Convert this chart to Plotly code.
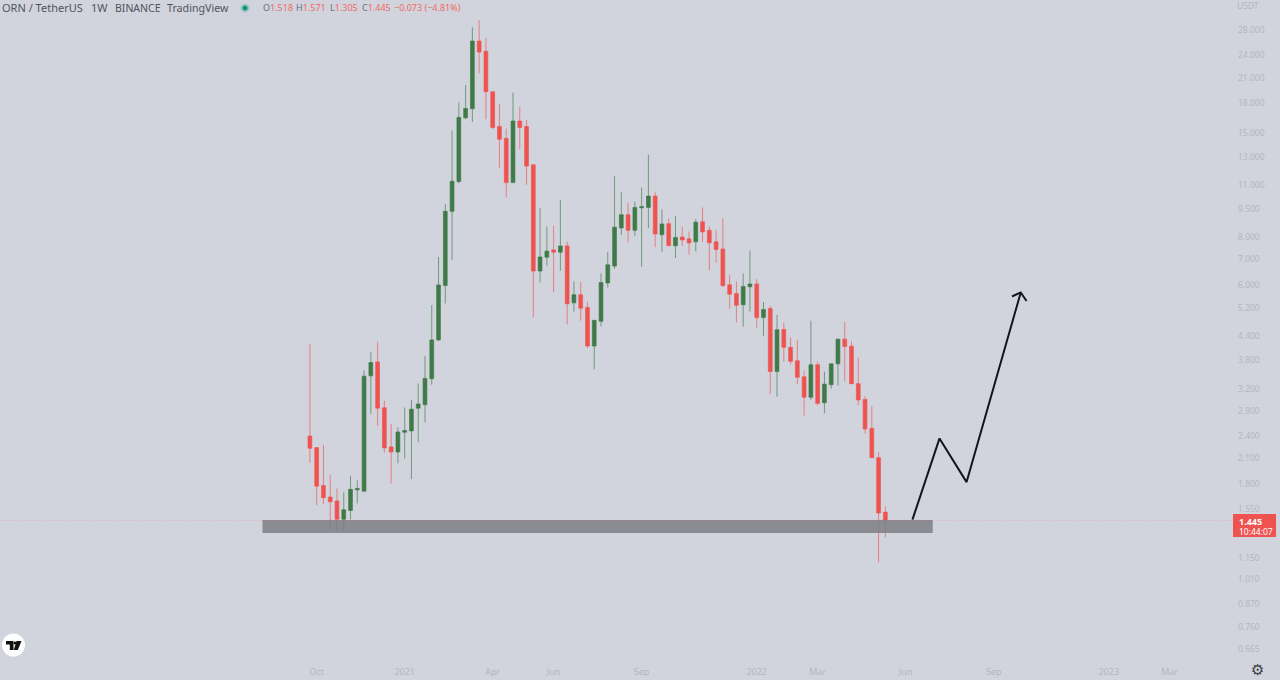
import math
import pandas as pd
import plotly.graph_objects as go

W, H = 1280, 680
BG = "#D1D4DC"
RED = "#EF5350"
GREEN = "#3F7A48"

start_week = "2020-09-28"
candle_count = 86

highs = [4.20,2.242,2.28,1.90,1.75,1.712,1.889,1.839,3.575,3.993,4.248,2.977,2.586,2.533,2.858,2.99,3.30,3.904,5.306,7.10,
         9.78,15.24,18.08,20.08,28.46,29.74,26.68,19.28,17.9,15.42,19.17,17.6,16.25,12.4,9.53,8.53,8.56,10.02,7.79,6.12,
         6.11,5.41,4.84,6.43,7.32,11.58,10.5,9.86,9.92,10.81,13.17,10.5,9.47,8.97,9.1,8.53,8.28,8.93,9.58,8.53,
         8.36,8.97,6.37,6.12,6.43,7.38,6.21,5.41,5.28,5.0,4.77,4.36,4.30,3.58,4.83,3.77,3.55,3.72,4.32,4.8,
         4.26,3.86,3.06,2.88,2.18,1.571]
lows = [2.046,1.581,1.59,1.351,1.351,1.349,1.454,1.60,1.723,2.752,2.555,2.174,1.806,2.038,2.10,1.854,2.317,2.613,3.278,4.275,
        5.36,6.97,11.08,16.32,16.05,21.55,16.32,15.36,12.17,10.18,11.13,13.61,10.99,4.93,6.08,6.73,5.73,6.53,4.72,5.10,
        4.83,4.09,3.60,4.66,5.90,6.61,8.11,7.76,8.07,6.69,8.45,7.53,7.32,7.6,7.06,7.59,7.19,7.34,7.78,6.56,
        6.86,5.92,5.2,4.78,4.66,5.1,4.63,4.41,3.1,3.05,3.77,3.71,3.29,2.72,2.99,2.89,2.76,3.2,3.26,3.35,
        3.30,2.90,2.44,2.11,1.12,1.305]
opens = [2.405,2.242,1.783,1.663,1.624,1.454,1.534,1.737,1.723,3.46,3.764,2.852,2.251,2.183,2.46,2.48,2.846,2.906,3.40,4.30,
         5.97,9.355,11.2,16.47,17.4,26.2,24.62,19.28,15.63,14.55,11.13,16.15,15.63,12.4,6.52,7.09,7.41,7.31,7.59,5.38,
         5.65,5.23,4.145,4.81,6.07,6.72,8.46,9.17,8.34,9.56,9.58,10.26,8.12,8.68,7.6,8.01,7.92,7.78,8.78,8.34,
         7.78,7.45,6.0,5.69,5.32,5.93,6.03,4.92,5.2,3.55,4.58,4.11,3.79,3.44,3.04,3.70,2.94,3.28,3.72,4.32,
         4.14,3.30,3.0,2.52,2.11,1.518]
closes = [2.233,1.776,1.656,1.617,1.454,1.54,1.742,1.75,3.453,3.749,2.846,2.237,2.183,2.465,2.485,2.828,2.918,3.407,4.30,5.995,
          9.355,11.22,16.5,17.43,26.2,24.51,19.28,15.53,14.46,11.13,16.15,15.53,12.3,6.52,7.10,7.35,7.31,7.59,5.35,5.65,
          5.21,4.145,4.84,6.08,6.77,8.50,9.17,8.34,9.58,9.62,10.26,8.16,8.67,7.6,7.99,7.87,7.73,8.76,8.26,7.74,
          7.43,5.97,5.67,5.3,5.94,6.03,4.92,5.17,3.55,4.57,4.11,3.78,3.43,3.04,3.70,2.93,3.29,3.72,4.32,4.13,
          3.30,2.99,2.51,2.11,1.51,1.445]

y_tick_values = [28,24,21,18,15,13,11,9.5,8,7,6,5.2,4.4,3.8,3.2,2.8,2.4,2.1,1.8,1.55,1.15,1.01,0.87,0.76,0.665]
y_tick_labels = ["28.000","24.000","21.000","18.000","15.000","13.000","11.000","9.500","8.000","7.000","6.000",
                 "5.200","4.400","3.800","3.200","2.800","2.400","2.100","1.800","1.550","1.150","1.010","0.870","0.760","0.665"]
x_tick_dates = ["2020-10-05","2021-01-04","2021-04-05","2021-06-07","2021-09-06","2022-01-03","2022-03-07",
                "2022-06-06","2022-09-05","2023-01-02","2023-03-06"]
x_tick_labels = ["Oct","2021","Apr","Jun","Sep","2022","Mar","Jun","Sep","2023","Mar"]

drawing_dates = ["2022-06-13","2022-07-11","2022-08-08","2022-10-03"]
drawing_prices = [1.45,2.37,1.82,5.73]
arrow_dates = ["2022-09-24","2022-10-03","2022-10-09"]
arrow_prices = [5.59,5.73,5.44]

zone_dates = ["2020-08-10","2022-07-04"]
zone_prices = [1.337,1.448]
last_price = 1.445

weeks = pd.date_range(start_week, periods=candle_count, freq="7D")

px_per_week = 6.77
anchor_px = 309.9
week0 = pd.Timestamp(start_week)
plot_right = 1232
x_from = week0 + pd.Timedelta(days=(0 - anchor_px) / px_per_week * 7)
x_to = week0 + pd.Timedelta(days=(plot_right - anchor_px) / px_per_week * 7)


def px(x):
    return x / W


def py(y):
    return 1 - y / H


fig = go.Figure()
fig.add_trace(go.Candlestick(
    x=weeks, open=opens, high=highs, low=lows, close=closes,
    whiskerwidth=0,
    increasing=dict(line=dict(color="rgba(63,122,72,0.65)", width=1), fillcolor=GREEN),
    decreasing=dict(line=dict(color="rgba(239,83,80,0.65)", width=1), fillcolor=RED),
    showlegend=False, hoverinfo="skip",
))
fig.add_trace(go.Scatter(x=drawing_dates, y=drawing_prices, mode="lines",
                         line=dict(color="#15161a", width=2), showlegend=False, hoverinfo="skip"))
fig.add_trace(go.Scatter(x=arrow_dates, y=arrow_prices, mode="lines",
                         line=dict(color="#15161a", width=2), showlegend=False, hoverinfo="skip"))

shapes = [
    dict(type="rect", xref="x", yref="y", x0=zone_dates[0], x1=zone_dates[1],
         y0=zone_prices[0], y1=zone_prices[1], line=dict(width=0),
         fillcolor="rgba(125,125,133,0.84)", layer="above"),
    dict(type="line", xref="paper", yref="y", x0=0, x1=px(plot_right), y0=last_price, y1=last_price,
         line=dict(color="rgba(239,83,80,0.55)", width=0.7, dash="1px,2px"), layer="above"),
    dict(type="rect", xref="paper", yref="paper", x0=px(1233), x1=px(1276), y0=py(537), y1=py(514),
         fillcolor=RED, line=dict(width=0), layer="above"),
    dict(type="circle", xref="paper", yref="paper", x0=px(2), x1=px(25), y0=py(656.5), y1=py(633.5),
         fillcolor="#FFFFFF", line=dict(width=0), layer="above"),
    dict(type="circle", xref="paper", yref="paper", x0=px(240.5), x1=px(249.5), y0=py(12.5), y1=py(3.5),
         fillcolor="rgba(8,153,129,0.22)", line=dict(width=0), layer="above"),
    dict(type="circle", xref="paper", yref="paper", x0=px(242.5), x1=px(247.5), y0=py(10.5), y1=py(5.5),
         fillcolor="#089981", line=dict(width=0), layer="above"),
]


def poly(points):
    d = "M " + " L ".join(f"{px(a):.5f},{py(b):.5f}" for a, b in points) + " Z"
    return dict(type="path", xref="paper", yref="paper", path=d, fillcolor="#111111",
                line=dict(width=0), layer="above")


shapes.append(poly([(6, 641), (13.5, 641), (13.5, 650), (9.8, 650), (9.8, 644.5), (6, 644.5)]))
shapes.append(poly([(16.5, 641), (21.5, 641), (17.8, 650), (13.8, 650)]))
shapes.append(dict(type="circle", xref="paper", yref="paper", x0=px(13.6), x1=px(16.4), y0=py(644.6), y1=py(641.4),
                   fillcolor="#111111", line=dict(width=0), layer="above"))


def note(x, y, text, color, size=11, anchor="left", family="Noto Sans"):
    return dict(xref="paper", yref="paper", x=px(x), y=py(y), text=text, showarrow=False,
                xanchor=anchor, yanchor="middle", font=dict(family=family, size=size, color=color),
                borderpad=0, borderwidth=0)


GR = "#6a6d78"
RT = "#EF6A67"
annotations = [
    note(2, 8, "ORN / TetherUS", "#50535E"),
    note(91, 8, "1W", "#50535E"),
    note(115, 8, "BINANCE", "#50535E", size=10.5),
    note(167, 8, "TradingView", "#50535E", size=10.7),
    note(263, 8, f'<span style="color:{GR}">O</span>1.518', RT, size=9),
    note(296, 8, f'<span style="color:{GR}">H</span>1.571', RT, size=9),
    note(330, 8, f'<span style="color:{GR}">L</span>1.305', RT, size=9),
    note(362, 8, f'<span style="color:{GR}">C</span>1.445', RT, size=9),
    note(394, 8, "−0.073 (−4.81%)", RT, size=9),
    note(1248, 6, "USDT", "#B3B6BE", size=8.5, anchor="center"),
    note(1239, 521, "<b>1.445</b>", "#FFFFFF", size=9),
    note(1239, 531, "10:44:07", "#FFFFFF", size=8.5),
    note(1257, 670, "⚙", "#3a3d45", size=15, anchor="center", family="DejaVu Sans"),
]

fig.update_layout(
    width=W, height=H, margin=dict(l=0, r=0, t=0, b=0, pad=0, autoexpand=False),
    paper_bgcolor=BG, plot_bgcolor=BG, showlegend=False,
    boxgap=0.2,
    shapes=shapes, annotations=annotations,
    xaxis=dict(domain=[0, plot_right / W], range=[x_from, x_to], type="date",
               rangeslider=dict(visible=False), showgrid=False, zeroline=False, showline=False,
               tickmode="array", tickvals=x_tick_dates, ticktext=x_tick_labels, ticks="",
               ticklabelstandoff=5,
               tickfont=dict(family="Noto Sans", size=9, color="#B3B6BE")),
    yaxis=dict(domain=[20 / H, 1], type="log", side="right",
               range=[math.log10(0.6208), math.log10(33.57)],
               showgrid=False, zeroline=False, showline=False,
               tickmode="array", tickvals=y_tick_values, ticktext=y_tick_labels, ticks="",
               ticklabelstandoff=5,
               tickfont=dict(family="Noto Sans", size=8.5, color="#B3B6BE")),
)

fig.write_html("out.html", config={"displayModeBar": False},
               post_script="document.body.style.margin='0';document.body.style.overflow='hidden';")
